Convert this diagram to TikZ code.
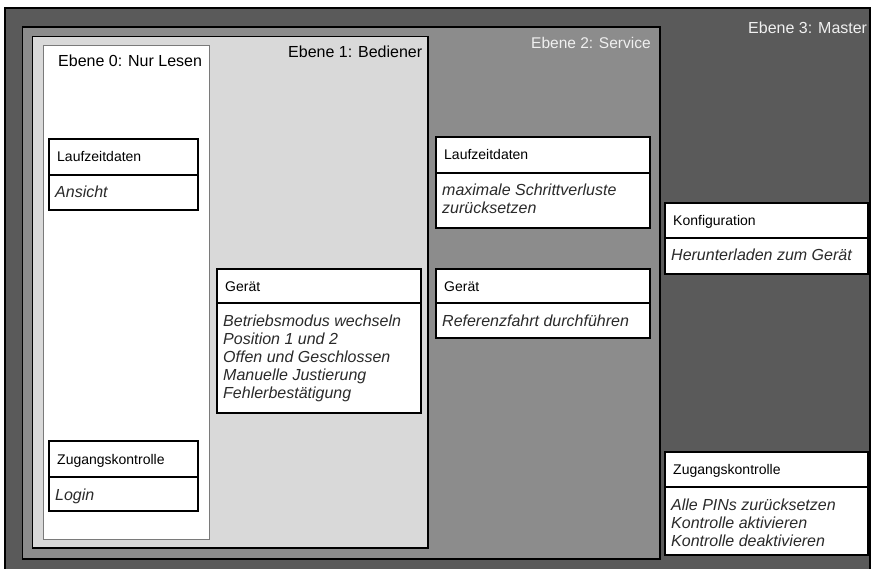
\documentclass[tikz,border=0pt]{standalone}
\usepackage{fontspec}
\setmainfont{Liberation Sans}
\definecolor{lthree}{HTML}{5A5A5A}
\definecolor{ltwo}{HTML}{8C8C8C}
\definecolor{lone}{HTML}{D9D9D9}
\definecolor{lzeroedge}{HTML}{7A7A7A}
\definecolor{itemgray}{HTML}{2A2A2A}
\definecolor{lighttext}{HTML}{F0F0F0}
\tikzset{
  levelthree/.style={fill=lthree, draw=black, line width=2pt},
  leveltwo/.style={fill=ltwo, draw=black, line width=1.5pt},
  levelone/.style={fill=lone, draw=black, line width=1.3pt},
  levelzero/.style={fill=white, draw=lzeroedge, line width=1pt},
  headtext/.style={font=\fontsize{16}{19}\selectfont, anchor=base west, inner sep=0pt},
  boxframe/.style={fill=white, draw=black, line width=1.7pt},
  titletext/.style={font=\fontsize{14}{16}\selectfont, anchor=base west, inner sep=0pt, text=black},
  itemtext/.style={font=\fontsize{16}{18}\selectfont\itshape, anchor=base west, inner sep=0pt, text=itemgray},
}
% #1 name, #2 left, #3 top, #4 divider, #5 bottom, #6 right, #7 title, #8 items
\newcommand{\entrybox}[8]{%
  \draw[boxframe] (#2,#3) rectangle (#6,#5);
  \draw[boxframe] (#2,#4) -- (#6,#4);
  \node[titletext] (#1-title) at ({#2+8},{(#3+#4)/2+5}) {#7};
  \node[itemtext] (#1-items) at ({#2+6},{#4+23}) {\begin{tabular}[t]{@{}l@{}}#8\end{tabular}};
}
\begin{document}
\begin{tikzpicture}[x=1pt,y=-1pt]
\useasboundingbox (0,0) rectangle (872,569);
\fill[white] (0,0) rectangle (872,569);
\begin{scope}
\clip (0,0) rectangle (872,569);
\draw[levelthree] (5,8) rectangle (870,580);
\end{scope}
\draw[leveltwo] (22.5,27) rectangle (660,559);
\draw[levelone] (32.5,36.5) rectangle (428,548);
\draw[levelzero] (43,46) rectangle (209,539);

\node[headtext, text=lighttext] (h3) at (748,34) {Ebene 3: Master};
\node[headtext, text=lighttext, font=\fontsize{15.5}{18}\selectfont] (h2) at (531,49) {Ebene 2: Service};
\node[headtext, text=black] (h1) at (288,58) {Ebene 1: Bediener};
\node[headtext, text=black] (h0) at (58,67) {Ebene 0: Nur Lesen};

\entrybox{lzrun}{49}{139}{175}{210}{198}{Laufzeitdaten}{Ansicht}
\entrybox{lzacc}{49}{441}{477}{511}{198}{Zugangskontrolle}{Login}
\entrybox{lodev}{217}{269}{303}{413}{421}{Gerät}{Betriebsmodus wechseln\\Position 1 und 2\\Offen und Geschlossen\\Manuelle Justierung\\Fehlerbestätigung}
\entrybox{ltrun}{436}{137}{173}{228}{650}{Laufzeitdaten}{maximale Schrittverluste\\zurücksetzen}
\entrybox{ltdev}{436}{269}{303}{338}{650}{Gerät}{Referenzfahrt durchführen}
\entrybox{lhcfg}{665}{203}{238}{274}{868}{Konfiguration}{Herunterladen zum Gerät}
\entrybox{lhacc}{665}{452}{487}{555}{868}{Zugangskontrolle}{Alle PINs zurücksetzen\\Kontrolle aktivieren\\Kontrolle deaktivieren}
\end{tikzpicture}
\end{document}
